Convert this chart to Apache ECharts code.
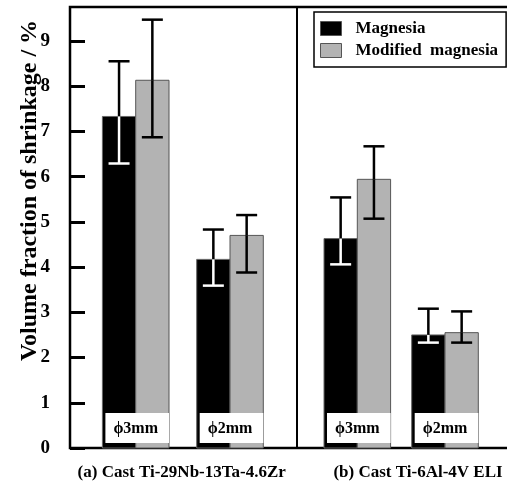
<!DOCTYPE html>
<html>
<head>
<meta charset="utf-8">
<script src="https://cdn.jsdelivr.net/npm/echarts@6/dist/echarts.min.js"></script>
<style>
html, body { margin: 0; padding: 0; background: #fff; }
#chart { width: 507px; height: 489px; }
</style>
</head>
<body>
<div id="chart"></div>
<script>
//数据
var sizes = ["\u03d53mm", "\u03d52mm", "\u03d53mm", "\u03d52mm"];
var magnesia = [7.33, 4.17, 4.63, 2.50];
var magnesiaLow = [6.29, 3.59, 4.06, 2.33];
var magnesiaHigh = [8.55, 4.83, 5.54, 3.08];
var modified = [8.13, 4.70, 5.94, 2.55];
var modifiedLow = [6.87, 3.88, 5.07, 2.33];
var modifiedHigh = [9.47, 5.15, 6.67, 3.02];
var alloys = ["(a) Cast Ti-29Nb-13Ta-4.6Zr", "(b) Cast Ti-6Al-4V ELI"];
var yTicks = [0, 1, 2, 3, 4, 5, 6, 7, 8, 9];

//布局（x轴单位=像素）
var groupX = [65.7, 160, 287.3, 375];
var alloyX = [111.7, 348];
var splitX = 227;
var barW = 33.3;
var font = "Liberation Serif";

//柱子+误差线
function barItem(values, lows, highs, side, fill, edge, innerErr){
	return function(params, api){
		var i = params.dataIndex;
		var base = api.coord([groupX[i], 0]);
		var top = api.coord([groupX[i], values[i]]);
		var lo = api.coord([groupX[i], lows[i]]);
		var hi = api.coord([groupX[i], highs[i]]);
		var x0 = side < 0 ? base[0] - barW : base[0];
		var ex = x0 + barW / 2;
		var cap = 10.5;
		return {
			type: "group",
			children: [
				{type: "rect", shape: {x: x0, y: top[1], width: barW, height: base[1] - top[1]},
					style: {fill: fill, stroke: edge, lineWidth: 1}},
				{type: "line", shape: {x1: ex, y1: top[1], x2: ex, y2: hi[1]}, style: {stroke: "#000", lineWidth: 2.5}},
				{type: "line", shape: {x1: ex - cap, y1: hi[1], x2: ex + cap, y2: hi[1]}, style: {stroke: "#000", lineWidth: 2.5}},
				{type: "line", shape: {x1: ex, y1: top[1], x2: ex, y2: lo[1]}, style: {stroke: innerErr, lineWidth: 2.5}},
				{type: "line", shape: {x1: ex - cap, y1: lo[1], x2: ex + cap, y2: lo[1]}, style: {stroke: innerErr, lineWidth: 2.5}}
			]
		};
	};
}

var myChart = echarts.init(document.getElementById("chart"));

var option = {
	animation: false,
	backgroundColor: "#fff",
	grid: {left: 70, top: 7, right: -3, bottom: 41, show: true, borderColor: "#000", borderWidth: 2.5,
		outerBoundsMode: "none", containLabel: false},
	legend: {
		orient: "vertical", left: 314, top: 12,
		backgroundColor: "#fff", borderColor: "#000", borderWidth: 1.5,
		padding: [8, 8, 8, 6], itemGap: 5, itemWidth: 21, itemHeight: 14,
		selectedMode: false,
		textStyle: {fontFamily: font, fontWeight: "bold", fontSize: 17, color: "#000", padding: [0, 0, 0, 9]},
		data: [
			{name: "Magnesia", icon: "rect", itemStyle: {color: "#000", borderColor: "#555", borderWidth: 1}},
			{name: "Modified  magnesia", icon: "rect", itemStyle: {color: "#b3b3b3", borderColor: "#555", borderWidth: 1}}
		]
	},
	xAxis: {
		type: "value", min: 0, max: 440,
		axisLine: {show: false}, axisTick: {show: false}, axisLabel: {show: false}, splitLine: {show: false}
	},
	yAxis: {
		type: "value", min: 0, max: 9.75,
		name: "Volume fraction of shrinkage / %",
		nameLocation: "middle", nameGap: 28, nameMoveOverlap: false,
		nameTextStyle: {fontFamily: font, fontWeight: "bold", fontSize: 24, color: "#000", padding: [0, 0, 0, 74]},
		axisLine: {show: false},
		axisTick: {show: true, inside: true, length: 15, customValues: yTicks, lineStyle: {color: "#000", width: 3}},
		axisLabel: {customValues: yTicks, margin: 20, fontFamily: font, fontWeight: "bold", fontSize: 19, color: "#000"},
		splitLine: {show: false}
	},
	series: [
		{
			name: "Magnesia", type: "custom", itemStyle: {color: "#000"},
			renderItem: barItem(magnesia, magnesiaLow, magnesiaHigh, -1, "#000", "#666", "#fff"),
			data: magnesia
		},
		{
			name: "Modified  magnesia", type: "custom", itemStyle: {color: "#b3b3b3"},
			renderItem: barItem(modified, modifiedLow, modifiedHigh, 1, "#b3b3b3", "#555", "#000"),
			data: modified,
			markLine: {
				silent: true, symbol: "none", label: {show: false},
				lineStyle: {color: "#000", width: 2, type: "solid"},
				data: [{xAxis: splitX}]
			}
		},
		{
			name: "size", type: "custom", z: 5,
			renderItem: function(params, api){
				var i = params.dataIndex;
				var p = api.coord([groupX[i], 0]);
				return {
					type: "group",
					children: [
						{type: "rect", shape: {x: p[0] - barW + 3, y: p[1] - 35, width: 2 * barW - 3, height: 30}, style: {fill: "#fff"}},
						{type: "text", style: {text: sizes[i], x: p[0], y: p[1] - 19, fill: "#000", align: "center", verticalAlign: "middle",
							font: "bold 16px '" + font + "'"}}
					]
				};
			},
			data: sizes
		},
		{
			name: "alloy", type: "custom", clip: false,
			renderItem: function(params, api){
				var i = params.dataIndex;
				var p = api.coord([alloyX[i], 0]);
				return {type: "text", style: {text: alloys[i], x: p[0], y: p[1] + 25, fill: "#000", align: "center", verticalAlign: "middle",
					font: "bold 17px '" + font + "'"}};
			},
			data: alloys
		}
	]
};

myChart.setOption(option);
</script>
</body>
</html>
